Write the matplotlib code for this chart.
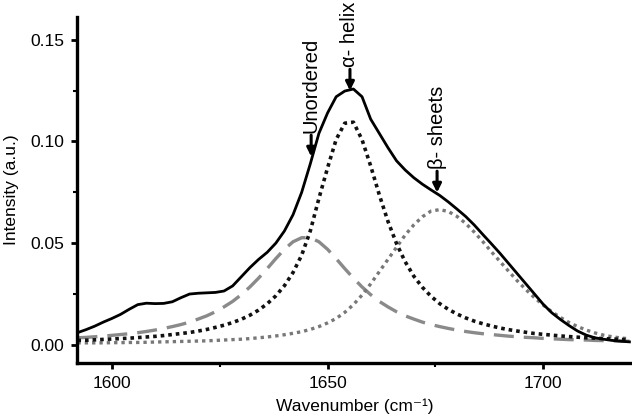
import matplotlib
matplotlib.use("Agg")
import matplotlib.pyplot as plt
from matplotlib.ticker import MultipleLocator

plt.rcParams['font.family'] = ['Liberation Sans', 'DejaVu Sans']

wavenumber = list(range(1592, 1722, 2))

total = [0.0060, 0.0075, 0.0092, 0.0112, 0.0130, 0.0150, 0.0175, 0.0198, 0.0205, 0.0203,
         0.0204, 0.0212, 0.0232, 0.0250, 0.0254, 0.0256, 0.0258, 0.0265, 0.0290, 0.0335,
         0.0380, 0.0420, 0.0455, 0.0500, 0.0560, 0.0640, 0.0750, 0.0890, 0.1040, 0.1140,
         0.1220, 0.1248, 0.1258, 0.1220, 0.1110, 0.1040, 0.0970, 0.0905, 0.0860, 0.0822,
         0.0790, 0.0762, 0.0735, 0.0703, 0.0668, 0.0632, 0.0590, 0.0543, 0.0497, 0.0450,
         0.0400, 0.0350, 0.0300, 0.0250, 0.0200, 0.0158, 0.0125, 0.0095, 0.0068, 0.0048,
         0.0035, 0.0028, 0.0022, 0.0018, 0.0015]

alpha_helix = [0.0022, 0.0023, 0.0025, 0.0027, 0.0029, 0.0031, 0.0033, 0.0036, 0.0039, 0.0042,
               0.0046, 0.0051, 0.0056, 0.0061, 0.0068, 0.0076, 0.0086, 0.0097, 0.0110, 0.0126,
               0.0146, 0.0171, 0.0202, 0.0241, 0.0291, 0.0356, 0.0441, 0.0560, 0.0720, 0.0870,
               0.1010, 0.1090, 0.1095, 0.1009, 0.0880, 0.0738, 0.0608, 0.0498, 0.0409, 0.0338,
               0.0283, 0.0239, 0.0203, 0.0175, 0.0152, 0.0133, 0.0117, 0.0104, 0.0093, 0.0083,
               0.0075, 0.0068, 0.0062, 0.0056, 0.0052, 0.0048, 0.0044, 0.0041, 0.0038, 0.0035,
               0.0033, 0.0031, 0.0029, 0.0027, 0.0025]

unordered = [0.0035, 0.0037, 0.0040, 0.0043, 0.0047, 0.0051, 0.0055, 0.0060, 0.0066, 0.0073,
             0.0081, 0.0090, 0.0100, 0.0112, 0.0127, 0.0143, 0.0163, 0.0187, 0.0214, 0.0247,
             0.0285, 0.0328, 0.0375, 0.0424, 0.0470, 0.0507, 0.0527, 0.0527, 0.0507, 0.0470,
             0.0424, 0.0375, 0.0328, 0.0285, 0.0247, 0.0214, 0.0187, 0.0163, 0.0143, 0.0127,
             0.0112, 0.0100, 0.0090, 0.0081, 0.0073, 0.0066, 0.0060, 0.0055, 0.0051, 0.0047,
             0.0043, 0.0040, 0.0037, 0.0035, 0.0032, 0.0030, 0.0028, 0.0026, 0.0025, 0.0024,
             0.0022, 0.0021, 0.0020, 0.0019, 0.0018]

beta_sheets = [0.0010, 0.0010, 0.0010, 0.0010, 0.0011, 0.0011, 0.0012, 0.0012, 0.0013, 0.0014,
               0.0015, 0.0016, 0.0017, 0.0018, 0.0019, 0.0020, 0.0022, 0.0024, 0.0026, 0.0028,
               0.0031, 0.0035, 0.0039, 0.0044, 0.0050, 0.0057, 0.0065, 0.0076, 0.0090, 0.0108,
               0.0130, 0.0160, 0.0198, 0.0245, 0.0300, 0.0360, 0.0420, 0.0480, 0.0540, 0.0590,
               0.0630, 0.0658, 0.0665, 0.0656, 0.0632, 0.0598, 0.0555, 0.0508, 0.0458, 0.0410,
               0.0362, 0.0315, 0.0272, 0.0232, 0.0196, 0.0163, 0.0135, 0.0110, 0.0090, 0.0073,
               0.0059, 0.0048, 0.0040, 0.0034, 0.0030]

labels = ["Unordered", "α- helix", "β- sheets"]
label_x = [1646.2, 1655.2, 1675.4]
arrow_tip = [0.0926, 0.1250, 0.0749]

fig = plt.figure(figsize=(6.32, 4.20), dpi=100)
ax = fig.add_axes([0.1218, 0.1357, 0.8782, 0.8238])

ax.plot(wavenumber, unordered, color='#8a8a8a', lw=2.4, dashes=(6, 3))
ax.plot(wavenumber, beta_sheets, color='#787878', lw=2.4, dashes=(1.0, 1.2))
ax.plot(wavenumber, alpha_helix, color='#111111', lw=2.6, dashes=(1.0, 1.1))
ax.plot(wavenumber, total, color='black', lw=2.0)

for lab, lx, tip in zip(labels, label_x, arrow_tip):
    tail = tip + 0.0105
    ax.annotate('', xy=(lx, tip), xytext=(lx, tail),
                arrowprops=dict(arrowstyle='-|>,head_length=0.5,head_width=0.25',
                                color='black', lw=2.2, shrinkA=0, shrinkB=0))
    ax.text(lx, tail + 0.0012, lab, rotation=90, ha='center', va='bottom',
            fontsize=14.5, color='black')

ax.set_xlim(1591.9, 1720.6)
ax.set_ylim(-0.0089, 0.1612)
ax.xaxis.set_major_locator(MultipleLocator(50))
ax.xaxis.set_minor_locator(MultipleLocator(25))
ax.yaxis.set_major_locator(MultipleLocator(0.05))
ax.yaxis.set_minor_locator(MultipleLocator(0.025))
ax.yaxis.set_major_formatter(matplotlib.ticker.FormatStrFormatter('%.2f'))

for s in ['top', 'right']:
    ax.spines[s].set_visible(False)
for s in ['left', 'bottom']:
    ax.spines[s].set_linewidth(2.4)

ax.tick_params(which='major', direction='out', length=4, width=2, labelsize=12.5, pad=5)
ax.tick_params(which='minor', direction='out', length=3, width=1.5)

ax.set_xlabel('Wavenumber (cm⁻¹)', fontsize=12.5, labelpad=6)
ax.set_ylabel('Intensity (a.u.)', fontsize=12.5, labelpad=8)

fig.savefig('out.png', dpi=100)
